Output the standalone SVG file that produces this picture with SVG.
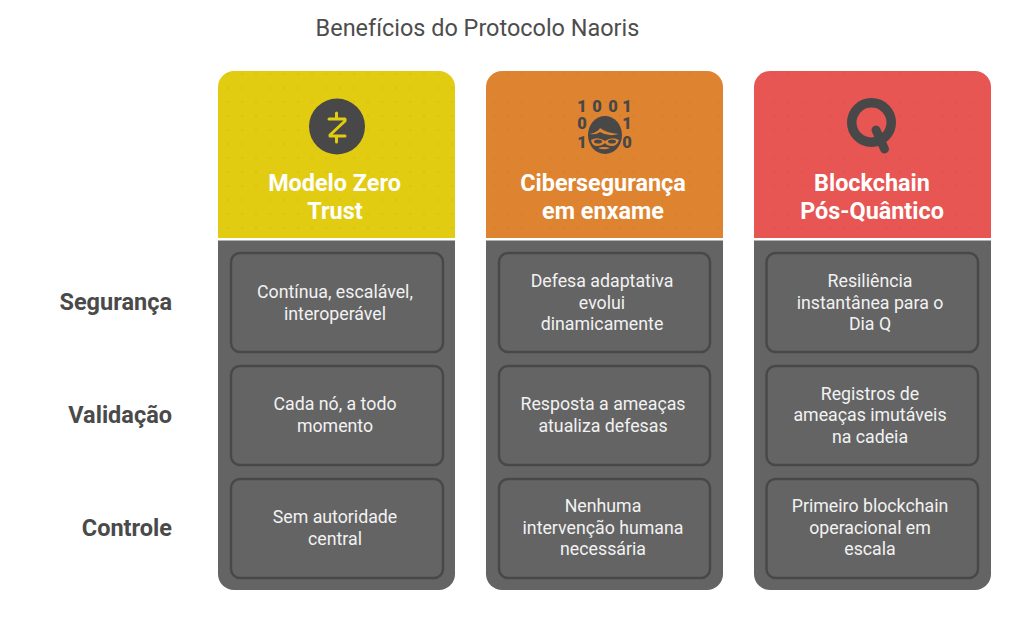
<svg xmlns="http://www.w3.org/2000/svg" width="1024" height="629" viewBox="0 0 1024 629">
<defs>
<pattern id="dots" width="14" height="14" patternUnits="userSpaceOnUse"><circle cx="4" cy="4" r="0.7" fill="#000" fill-opacity="0.1"/></pattern>
</defs>
<style>
text{font-family:Roboto,"Liberation Sans",sans-serif;text-anchor:middle}
.title{font-size:23.45px;fill:#4d4d4d}
.head{font-size:23.4px;font-weight:700;fill:#fff}
.body{font-size:17.75px;fill:#f2f2f2}
.row{font-size:23.5px;font-weight:700;fill:#4a4a4a;text-anchor:end}
.panel{fill:#646464}
.cell{fill:#646464;stroke:#484848;stroke-width:2.5}
.ink{fill:#484848}
.bin{font-size:16.5px;font-weight:900;fill:#484848}
</style>
<rect width="1024" height="629" fill="#fff"/>
<text class="title" x="477.500" y="35.500">Benefícios do Protocolo Naoris</text>
<g id="row-labels">
<text class="row" x="172" y="310">Segurança</text>
<text class="row" x="172" y="423">Validação</text>
<text class="row" x="172" y="536">Controle</text>
</g>
<g id="col-zero-trust">
<path d="M218 238V87a16 16 0 0 1 16-16H439a16 16 0 0 1 16 16V238Z" fill="#E2CC12"/>
<path d="M218 238V87a16 16 0 0 1 16-16H439a16 16 0 0 1 16 16V238Z" fill="url(#dots)"/>
<path d="M218 240.500H455V574a16 16 0 0 1-16 16H234a16 16 0 0 1-16-16Z" class="panel"/>
<circle class="ink" cx="337" cy="126.500" r="28"/>
<path d="M329 119H345V121L330 135V136H345M336.500 113V119M336.500 136V142" fill="none" stroke="#E2CC12" stroke-width="3" stroke-linecap="round" stroke-linejoin="round"/>
<text class="head" x="334.500" y="191">Modelo Zero</text>
<text class="head" x="335" y="219">Trust</text>
<g id="n-a1"><rect class="cell" x="231" y="253" width="212" height="99" rx="9"/><text class="body" x="335" y="297.700">Contínua, escalável,</text><text class="body" x="335" y="319.700">interoperável</text></g>
<g id="n-a2"><rect class="cell" x="231" y="366" width="212" height="99" rx="9"/><text class="body" x="335" y="409.700">Cada nó, a todo</text><text class="body" x="335" y="431.700">momento</text></g>
<g id="n-a3"><rect class="cell" x="231" y="479" width="212" height="99" rx="9"/><text class="body" x="335" y="522.700">Sem autoridade</text><text class="body" x="335" y="544.700">central</text></g>
</g>
<g id="col-enxame">
<path d="M486 238V87a16 16 0 0 1 16-16H707a16 16 0 0 1 16 16V238Z" fill="#DE8431"/>
<path d="M486 238V87a16 16 0 0 1 16-16H707a16 16 0 0 1 16 16V238Z" fill="url(#dots)"/>
<path d="M486 240.500H723V574a16 16 0 0 1-16 16H502a16 16 0 0 1-16-16Z" class="panel"/>
<text class="bin" x="582" y="112">1</text><text class="bin" x="597" y="112">0</text><text class="bin" x="613" y="112">0</text><text class="bin" x="627" y="112">1</text>
<text class="bin" x="582" y="129">0</text><text class="bin" x="627" y="129">1</text>
<text class="bin" x="582" y="148">1</text><text class="bin" x="627" y="148">0</text>
<ellipse class="ink" cx="605" cy="135" rx="17" ry="19"/>
<path d="M590 134Q598 132 600 128Q606 133 619 134Q608 137 600 132Q596 135 590 134Z" fill="#DE8431"/>
<path d="M591 140Q598 136 605 141Q612 136 619 140Q617 146 612 146Q607 146 605 143Q602 146 597 146Q592 146 591 140Z" fill="#DE8431"/>
<ellipse class="ink" cx="598" cy="141.500" rx="4" ry="2"/>
<ellipse class="ink" cx="612" cy="141.500" rx="4" ry="2"/>
<path d="M598 148Q604 146 610 148Q604 150.500 598 148Z" fill="#DE8431"/>
<text class="head" x="603" y="191">Cibersegurança</text>
<text class="head" x="603" y="219">em enxame</text>
<g id="n-b1"><rect class="cell" x="499" y="253" width="211" height="99" rx="9"/><text class="body" x="602" y="286.700">Defesa adaptativa</text><text class="body" x="602" y="308.700">evolui</text><text class="body" x="602" y="329.700">dinamicamente</text></g>
<g id="n-b2"><rect class="cell" x="499" y="366" width="211" height="99" rx="9"/><text class="body" x="603" y="409.700">Resposta a ameaças</text><text class="body" x="603" y="431.700">atualiza defesas</text></g>
<g id="n-b3"><rect class="cell" x="499" y="479" width="211" height="99" rx="9"/><text class="body" x="603" y="511.700">Nenhuma</text><text class="body" x="603" y="533.700">intervenção humana</text><text class="body" x="603" y="554.700">necessária</text></g>
</g>
<g id="col-quantum">
<path d="M754 238V87a16 16 0 0 1 16-16H975a16 16 0 0 1 16 16V238Z" fill="#E85654"/>
<path d="M754 238V87a16 16 0 0 1 16-16H975a16 16 0 0 1 16 16V238Z" fill="url(#dots)"/>
<path d="M754 240.500H991V574a16 16 0 0 1-16 16H770a16 16 0 0 1-16-16Z" class="panel"/>
<circle cx="871.500" cy="122.500" r="19.750" fill="none" stroke="#484848" stroke-width="9.500"/>
<path d="M876 130L884.500 149" fill="none" stroke="#484848" stroke-width="9" stroke-linecap="round"/>
<text class="head" x="872" y="191">Blockchain</text>
<text class="head" x="872" y="219">Pós-Quântico</text>
<g id="n-c1"><rect class="cell" x="766.500" y="253" width="211.500" height="99" rx="9"/><text class="body" x="870" y="286.700">Resiliência</text><text class="body" x="870" y="308.700">instantânea para o</text><text class="body" x="870" y="329.700">Dia Q</text></g>
<g id="n-c2"><rect class="cell" x="766.500" y="366" width="211.500" height="99" rx="9"/><text class="body" x="870" y="399.700">Registros de</text><text class="body" x="870" y="420.700">ameaças imutáveis</text><text class="body" x="870" y="442.700">na cadeia</text></g>
<g id="n-c3"><rect class="cell" x="766.500" y="479" width="211.500" height="99" rx="9"/><text class="body" x="870" y="511.700">Primeiro blockchain</text><text class="body" x="870" y="533.700">operacional em</text><text class="body" x="870" y="554.700">escala</text></g>
</g>
<g id="connectors"></g>
</svg>
